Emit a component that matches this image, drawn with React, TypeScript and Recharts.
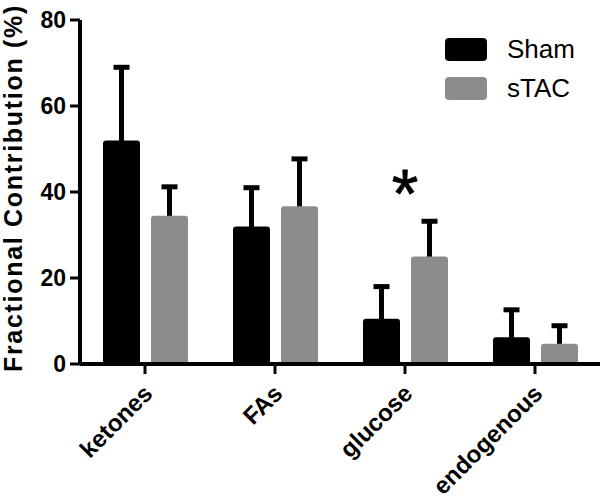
import React from 'react';
import { BarChart, Bar, XAxis, YAxis, ReferenceDot, Rectangle } from 'recharts';

const categories = ['ketones', 'FAs', 'glucose', 'endogenous'];
const shamValues = [52, 32, 10.5, 6.2];
const shamErrors = [17, 9, 7.5, 6.4];
const stacValues = [34.5, 36.7, 25, 4.7];
const stacErrors = [6.7, 11, 8.2, 4.2];
const yTicks = [0, 20, 40, 60, 80];
const seriesNames = ['Sham', 'sTAC'];
const seriesColors = ['#000000', '#8c8c8c'];
const significance = { category: 'glucose', y: 42.8, mark: '*' };

const data = categories.map((c, i) => ({
  name: c,
  sham: shamValues[i],
  shamErr: shamErrors[i],
  stac: stacValues[i],
  stacErr: stacErrors[i],
}));

const FONT = '"Liberation Sans", Arial, Helvetica, sans-serif';

const XTick = (props: any) => {
  const { x, y, payload } = props;
  return (
    <g transform={`translate(${x},${y})`}>
      <text
        x={9}
        y={19}
        textAnchor="end"
        transform="rotate(-45 9 19)"
        fontFamily={FONT}
        fontWeight="bold"
        fontSize={24}
        fill="#000"
      >
        {payload.value}
      </text>
    </g>
  );
};

const YLabel = (props: any) => {
  const { viewBox } = props;
  const cx = viewBox.x + 22;
  const cy = viewBox.y + viewBox.height / 2 - 4;
  return (
    <text
      x={cx}
      y={cy}
      textAnchor="middle"
      transform={`rotate(-90 ${cx} ${cy})`}
      fontFamily={FONT}
      fontWeight="bold"
      fontSize={25}
      letterSpacing={1.7}
      fill="#000"
    >
      Fractional Contribution (%)
    </text>
  );
};

const makeShape = (errKey: string, valKey: string) => (props: any) => {
  const { x, y, width, height, fill, payload } = props;
  const value = payload[valKey];
  const err = payload[errKey];
  const pxPerUnit = value ? height / value : 0;
  const top = y - err * pxPerUnit;
  const cx = x + width / 2;
  const capW = 16;
  return (
    <g>
      <line x1={cx} x2={cx} y1={y + 2} y2={top} stroke="#000" strokeWidth={5} />
      <line x1={cx - capW / 2} x2={cx + capW / 2} y1={top} y2={top} stroke="#000" strokeWidth={5} />
      <Rectangle x={x} y={y} width={width} height={height} fill={fill} radius={3} />
    </g>
  );
};

const Star = (props: any) => {
  const { cx, cy } = props;
  return (
    <text x={cx} y={cy + 37} textAnchor="middle" fontFamily={FONT} fontSize={68} fill="#000" stroke="#000" strokeWidth={0.8}>
      {significance.mark}
    </text>
  );
};

export default function App() {
  return (
    <div style={{ position: 'absolute', left: 0, top: 0, width: 600, height: 504, background: '#fff' }}>
      <BarChart
        width={600}
        height={504}
        data={data}
        margin={{ top: 20, right: 0, bottom: 0, left: 0 }}
        barSize={37}
        barGap={11}
      >
        <XAxis
          dataKey="name"
          height={140}
          interval={0}
          tickSize={10}
          axisLine={{ stroke: '#000', strokeWidth: 4 }}
          tickLine={{ stroke: '#000', strokeWidth: 3 }}
          tick={<XTick />}
        />
        <YAxis
          width={80}
          domain={[0, 80]}
          ticks={yTicks}
          tickSize={10}
          tickMargin={4}
          axisLine={{ stroke: '#000', strokeWidth: 4 }}
          tickLine={{ stroke: '#000', strokeWidth: 3 }}
          tick={{ fontFamily: FONT, fontWeight: 'bold', fontSize: 23, fill: '#000' }}
          label={<YLabel />}
        />
        <Bar dataKey="sham" name="Sham" fill={seriesColors[0]} isAnimationActive={false} shape={makeShape('shamErr', 'sham')} />
        <Bar dataKey="stac" name="sTAC" fill={seriesColors[1]} isAnimationActive={false} shape={makeShape('stacErr', 'stac')} />
        <ReferenceDot x={significance.category} y={significance.y} r={0} shape={<Star />} ifOverflow="visible" />
      </BarChart>
      <div style={{ position: 'absolute', left: 445, top: 38, fontFamily: FONT }}>
        {seriesNames.map((n, i) => (
          <div key={n} style={{ display: 'flex', alignItems: 'center', height: 23, marginBottom: i === 0 ? 16 : 0 }}>
            <div style={{ width: 42, height: 23, background: seriesColors[i], borderRadius: 4 }} />
            <span style={{ marginLeft: 20, fontSize: 26, color: '#000', lineHeight: '23px' }}>{n}</span>
          </div>
        ))}
      </div>
    </div>
  );
}
